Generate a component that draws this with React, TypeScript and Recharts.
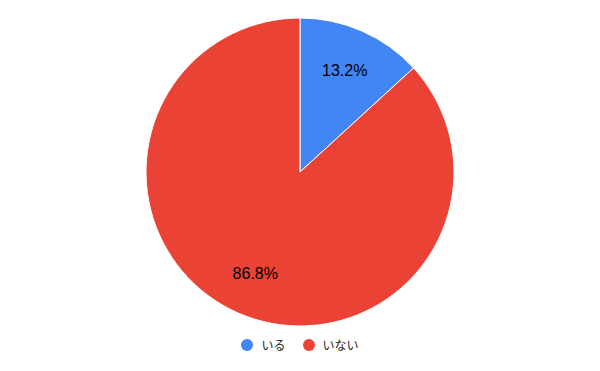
import React from "react";
import { PieChart, Pie, Cell, Legend } from "recharts";

const categories = ["いる", "いない"];
const values = [13.2, 86.8];
const colors = ["#4285F4", "#EA4335"];

const data = categories.map((name, i) => ({ name, value: values[i] }));

const RAD = Math.PI / 180;

const renderLabel = (props: any) => {
  const { cx, cy, midAngle, percent } = props;
  const r = 111;
  const x = cx + r * Math.cos(-midAngle * RAD);
  const y = cy + r * Math.sin(-midAngle * RAD);
  return (
    <text
      x={x}
      y={y}
      fill="#000000"
      textAnchor="middle"
      dominantBaseline="central"
      fontFamily="Arial, 'Liberation Sans', sans-serif"
      fontSize={16}
    >
      {(percent * 100).toFixed(1)}%
    </text>
  );
};

const renderLegend = () => {
  return (
    <div
      style={{
        display: "flex",
        justifyContent: "center",
        alignItems: "center",
        fontFamily: "'Noto Sans CJK JP', Roboto, sans-serif",
        fontSize: 12,
        color: "#222222",
      }}
    >
      {categories.map((name, i) => (
        <div
          key={name}
          style={{ display: "flex", alignItems: "center", marginRight: i === 0 ? 17 : 0 }}
        >
          <svg width={12} height={12} style={{ marginRight: 8 }}>
            <circle cx={6} cy={6} r={6} fill={colors[i]} />
          </svg>
          <span>{name}</span>
        </div>
      ))}
    </div>
  );
};

export default function App() {
  return (
    <div style={{ position: "absolute", left: 0, top: 0, background: "#fff" }}>
      <PieChart width={600} height={371} margin={{ top: 0, right: 0, bottom: 0, left: 0 }}>
        <Pie
          data={data}
          dataKey="value"
          nameKey="name"
          cx={300}
          cy={172}
          outerRadius={154}
          startAngle={90}
          endAngle={-270}
          stroke="#ffffff"
          strokeWidth={1}
          label={renderLabel}
          labelLine={false}
          isAnimationActive={false}
        >
          {data.map((d, i) => (
            <Cell key={d.name} fill={colors[i]} />
          ))}
        </Pie>
        <Legend
          verticalAlign="bottom"
          align="center"
          content={renderLegend}
          wrapperStyle={{ position: "absolute", top: 336, left: 0, width: 600 }}
        />
      </PieChart>
    </div>
  );
}
